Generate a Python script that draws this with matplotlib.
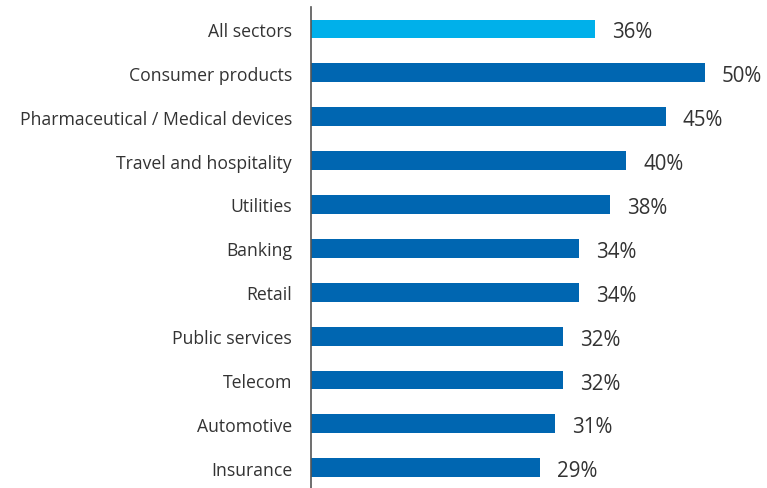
import matplotlib.pyplot as plt
from matplotlib.transforms import offset_copy

sectors = ['All sectors', 'Consumer products', 'Pharmaceutical / Medical devices',
           'Travel and hospitality', 'Utilities', 'Banking', 'Retail',
           'Public services', 'Telecom', 'Automotive', 'Insurance']
shares = [36, 50, 45, 40, 38, 34, 34, 32, 32, 31, 29]

light_blue = '#00b0ea'
dark_blue = '#0066b1'
text_col = '#333333'

plt.rcParams['font.family'] = ['Open Sans', 'DejaVu Sans']

fig = plt.figure(figsize=(7.67, 4.89), dpi=100)
ax = fig.add_axes([311 / 767, 0, 456 / 767, 481 / 489])

pos = list(range(len(sectors)))
colors = [light_blue] + [dark_blue] * (len(sectors) - 1)
ax.barh(pos, shares, height=0.43, color=colors)

ax.set_xlim(0, 456 / 7.88)
ax.set_ylim(10.46, -0.5)

# value labels to the right of each bar, sitting a touch low
lbl_trans = offset_copy(ax.transData, fig=fig, x=17, y=-3, units='dots')
for p, v in zip(pos, shares):
    ax.text(v, p, f'{v}%', transform=lbl_trans, ha='left', va='center',
            fontsize=14.8, color=text_col)

ax.set_yticks(pos)
ax.set_yticklabels(sectors, fontsize=12.7, color=text_col)
ax.tick_params(axis='y', length=0, pad=13.5)
ax.set_xticks([])

for side in ['top', 'right', 'bottom']:
    ax.spines[side].set_visible(False)
ax.spines['left'].set_color('#555555')
ax.spines['left'].set_linewidth(1.2)

fig.savefig('out.png', dpi=100)
